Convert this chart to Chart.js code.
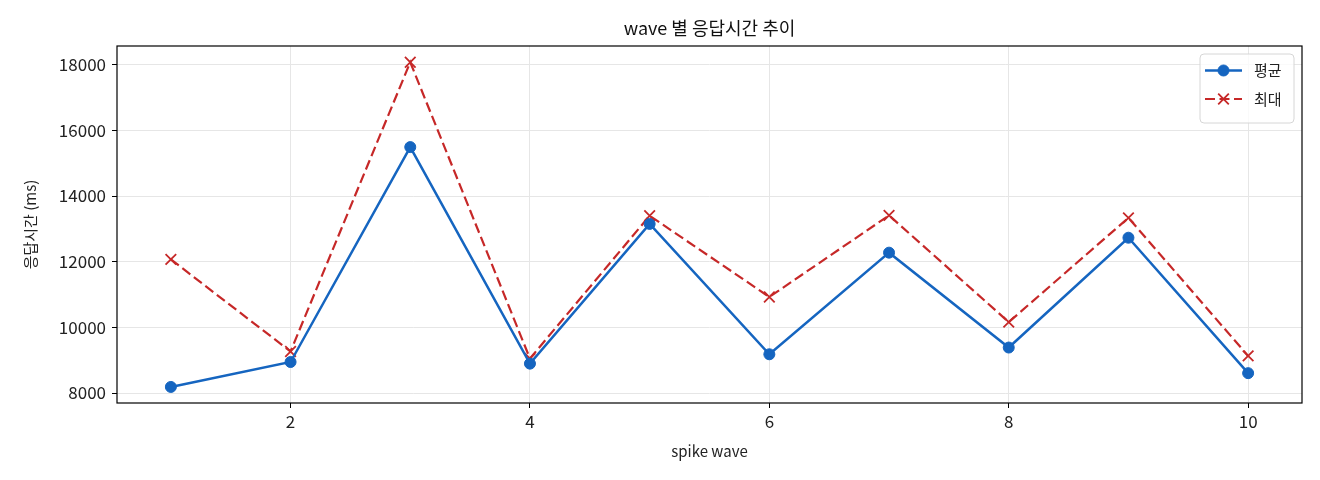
<!DOCTYPE html>
<html>
<head>
<meta charset="utf-8">
<script src="https://cdn.jsdelivr.net/npm/chart.js@4.4.1/dist/chart.umd.min.js"></script>
<style>
  html, body { margin: 0; padding: 0; background: #fff; }
  #wrap { width: 1320px; height: 480px; }
</style>
</head>
<body>
<div id="wrap"><canvas id="waveChart" width="1320" height="480"></canvas></div>
<script>
const waves = [1, 2, 3, 4, 5, 6, 7, 8, 9, 10];
const avgMs = [8185, 8945, 15490, 8895, 13150, 9180, 12275, 9385, 12730, 8605];
const maxMs = [12070, 9265, 18075, 9050, 13400, 10925, 13410, 10160, 13335, 9130];
const xTicks = [2, 4, 6, 8, 10];
const yTicks = [8000, 10000, 12000, 14000, 16000, 18000];
const chartTitle = 'wave 별 응답시간 추이';

const FONT = "'Noto Sans CJK KR', 'Noto Sans', sans-serif";
const gridColor = '#e6e6e6';

// black frame around the plot area, like matplotlib spines
const framePlugin = {
    id: 'frame',
    afterDatasetsDraw(chart) {
        const { ctx, chartArea: a } = chart;
        ctx.save();
        ctx.strokeStyle = '#000';
        ctx.lineWidth = 1.2;
        ctx.strokeRect(a.left, a.top, a.right - a.left, a.bottom - a.top);
        ctx.restore();
    }
};

// title centred over the plot area rather than the canvas
const plotTitle = {
    id: 'plotTitle',
    afterDraw(chart) {
        const { ctx, chartArea: a } = chart;
        ctx.save();
        ctx.fillStyle = '#111';
        ctx.font = "18px " + FONT;
        ctx.textAlign = 'center';
        ctx.textBaseline = 'middle';
        ctx.fillText(chartTitle, (a.left + a.right) / 2, 28);
        ctx.restore();
    }
};

// legend box inside the plot, top right
const innerLegend = {
    id: 'innerLegend',
    afterDraw(chart) {
        const { ctx, chartArea: a } = chart;
        const sets = chart.data.datasets;
        const boxW = 94, rowH = 28.5;
        const boxH = 12 + rowH * sets.length;
        const x0 = a.right - 8 - boxW, y0 = a.top + 8;
        ctx.save();
        ctx.beginPath();
        ctx.roundRect(x0, y0, boxW, boxH, 4);
        ctx.fillStyle = 'rgba(255,255,255,0.8)';
        ctx.fill();
        ctx.strokeStyle = '#d6d6d6';
        ctx.lineWidth = 1;
        ctx.stroke();
        sets.forEach((ds, i) => {
            const cy = y0 + 16.5 + i * rowH;
            ctx.strokeStyle = ds.borderColor;
            ctx.lineWidth = ds.borderWidth;
            ctx.setLineDash(ds.borderDash || []);
            ctx.beginPath();
            ctx.moveTo(x0 + 5, cy);
            ctx.lineTo(x0 + 42, cy);
            ctx.stroke();
            ctx.setLineDash([]);
            ctx.fillStyle = ds.backgroundColor;
            ctx.lineWidth = ds.pointBorderWidth || 1;
            Chart.helpers.drawPoint(ctx, {
                pointStyle: ds.pointStyle,
                radius: ds.pointRadius,
                borderWidth: ds.pointBorderWidth || 1,
                rotation: 0
            }, x0 + 23.5, cy);
            ctx.fillStyle = '#222';
            ctx.font = "15px " + FONT;
            ctx.textBaseline = 'middle';
            ctx.fillText(ds.label, x0 + 54, cy);
        });
        ctx.restore();
    }
};

const ctx = document.getElementById('waveChart').getContext('2d');
new Chart(ctx, {
    type: 'line',
    data: {
        datasets: [
            {
                label: '평균',
                data: waves.map((w, i) => ({ x: w, y: avgMs[i] })),
                borderColor: '#1565c0',
                backgroundColor: '#1565c0',
                borderWidth: 2.5,
                pointStyle: 'circle',
                pointRadius: 5.5,
                pointBorderWidth: 1,
                pointHoverRadius: 5.5,
                tension: 0
            },
            {
                label: '최대',
                data: waves.map((w, i) => ({ x: w, y: maxMs[i] })),
                borderColor: '#c62828',
                backgroundColor: '#c62828',
                borderWidth: 2.2,
                borderDash: [10, 4.5],
                pointStyle: 'crossRot',
                pointRadius: 7.5,
                pointBorderWidth: 1.8,
                pointHoverRadius: 7.5,
                tension: 0
            }
        ]
    },
    options: {
        responsive: false,
        animation: false,
        devicePixelRatio: 1,
        layout: { padding: { left: 0, right: 18, top: 46, bottom: 0 } },
        plugins: {
            legend: { display: false },
            tooltip: { enabled: false },
            title: { display: false }
        },
        scales: {
            x: {
                type: 'linear',
                min: 0.55,
                max: 10.45,
                afterBuildTicks(scale) { scale.ticks = xTicks.map(v => ({ value: v })); },
                afterFit(scale) { scale.height = 77; },
                ticks: { color: '#222', font: { family: FONT, size: 17 }, padding: 3 },
                grid: { color: gridColor, tickColor: '#000', tickLength: 5 },
                border: { display: false },
                title: {
                    display: true,
                    text: 'spike wave',
                    color: '#222',
                    font: { family: FONT, size: 15 },
                    padding: { top: 0, bottom: 20 }
                }
            },
            y: {
                type: 'linear',
                min: 7696,
                max: 18569,
                afterBuildTicks(scale) { scale.ticks = yTicks.map(v => ({ value: v })); },
                afterFit(scale) { scale.width = 117; },
                ticks: {
                    color: '#222',
                    font: { family: FONT, size: 17 },
                    padding: 6,
                    callback: v => String(v)
                },
                grid: { color: gridColor, tickColor: '#000', tickLength: 5 },
                border: { display: false },
                title: {
                    display: true,
                    text: '응답시간 (ms)',
                    color: '#222',
                    font: { family: FONT, size: 15 },
                    padding: { top: 21, bottom: 0 }
                }
            }
        }
    },
    plugins: [framePlugin, plotTitle, innerLegend]
});
</script>
</body>
</html>
